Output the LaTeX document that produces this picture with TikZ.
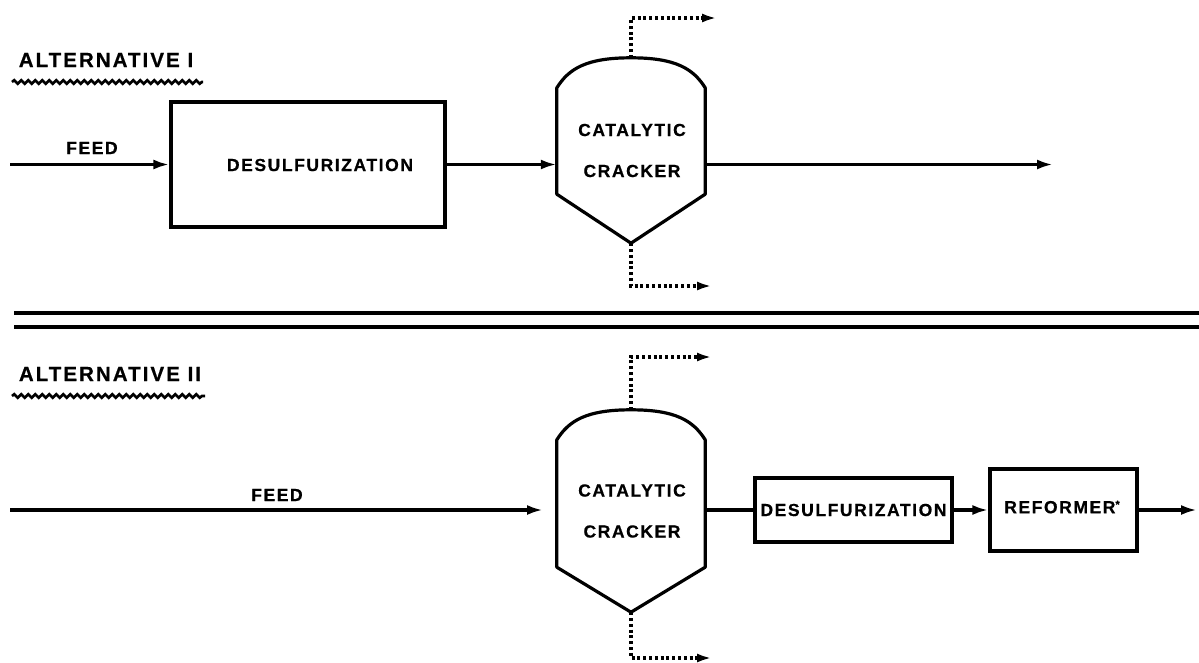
\documentclass[tikz,border=0pt]{standalone}
\usepackage{fontspec}
\setmainfont{Liberation Sans}
\newfontfamily\lblfont{Liberation Sans}[LetterSpace=9, FakeBold=0.6]
\newfontfamily\ttlfont{Liberation Sans}[LetterSpace=10, FakeBold=0.6]
\usetikzlibrary{arrows.meta,decorations.pathmorphing,calc}
\begin{document}
\begin{tikzpicture}[x=1pt,y=-1pt,
  lbl/.style={font={\lblfont\bfseries\fontsize{17.5}{41}\selectfont}, inner sep=0pt, align=center},
  ttl/.style={font={\ttlfont\bfseries\fontsize{20.5}{24}\selectfont}, inner sep=0pt},
  box/.style={draw, line width=3.2pt, inner sep=0pt},
  body/.style={draw=none, inner sep=0pt},
  shell/.style={line width=3.2pt, line join=round},
  flow/.style={line width=3.2pt, -{Latex[length=16pt,width=10pt]}},
  plain/.style={line width=3.2pt},
  vent/.style={line width=3.4pt, dash pattern=on 3pt off 2.8pt, -{Latex[length=15pt,width=9pt]}},
  wavy/.style={line width=2.6pt, decorate, decoration={snake, amplitude=1.8pt, segment length=7pt}},
  sep/.style={line width=4pt}]
\useasboundingbox (0,0) rectangle (1199,662);

% ---------- ALTERNATIVE I ----------
\node[ttl] (t1) at (106,60) {ALTERNATIVE I};
\draw[wavy] (12,82) -- (203,82);

\node[box, minimum width=274, minimum height=125] (d1) at (308,164.5) {};
\node[lbl] (d1t) at (320,165) {DESULFURIZATION};

\node[body, minimum width=148, minimum height=106] (c1) at (631,141) {};
\coordinate (c1top) at ($(c1.north)+(0,-30)$);
\coordinate (c1tip) at ($(c1.south)+(0,49)$);
\draw[shell] (c1.south west) -- (c1.north west)
  .. controls +(12,-19) and +(-45,0) .. (c1top)
  .. controls +(45,0) and +(-12,-19) .. (c1.north east)
  -- (c1.south east) -- (c1tip) -- cycle;
\node[lbl] (c1t) at (632,150.5) {CATALYTIC\\CRACKER};

\coordinate (f1) at (10,164.5);
\node[lbl] (feed1) at (92,148) {FEED};
\draw[flow] (f1) -- (d1.west);
\draw[flow] (d1.east) -- (d1.east -| c1.west);
\coordinate (o1) at (1053,164.5);
\draw[flow] (d1.east -| c1.east) -- (o1);
\coordinate (v1) at (717,18);
\coordinate (v2) at (712,286);
\draw[vent] (c1top) |- (v1);
\draw[vent] (c1tip) |- (v2);

% ---------- separator ----------
\draw[sep] (14,313) -- (1199,313);
\draw[sep] (14,327) -- (1199,327);

% ---------- ALTERNATIVE II ----------
\node[ttl] (t2) at (110,374) {ALTERNATIVE II};
\draw[wavy] (12,396) -- (205,396);

\node[body, minimum width=148, minimum height=127] (c2) at (631,503.5) {};
\coordinate (c2top) at ($(c2.north)+(0,-30)$);
\coordinate (c2tip) at ($(c2.south)+(0,45)$);
\draw[shell] (c2.south west) -- (c2.north west)
  .. controls +(12,-19) and +(-45,0) .. (c2top)
  .. controls +(45,0) and +(-12,-19) .. (c2.north east)
  -- (c2.south east) -- (c2tip) -- cycle;
\node[lbl] (c2t) at (632,511) {CATALYTIC\\CRACKER};

\node[box, minimum width=197, minimum height=64] (d2) at (853.5,510) {};
\node[lbl] (d2t) at (d2.center) {DESULFURIZATION};
\node[box, minimum width=147, minimum height=82] (r2) at (1063.5,510) {};
\node[lbl] (r2t) at (1062,507) {REFORMER{\fontsize{11}{11}\selectfont\raisebox{5pt}{*}}};

\coordinate (f2) at (10,510);
\coordinate (f2e) at (543,510);
\node[lbl] (feed2) at (277,495) {FEED};
\draw[flow] (f2) -- (f2e);
\draw[plain] (d2.west -| c2.east) -- (d2.west);
\draw[flow] (d2.east) -- (r2.west);
\coordinate (o2) at (1197,510);
\draw[flow] (r2.east) -- (o2);
\coordinate (v3) at (712,357);
\coordinate (v4) at (712,658);
\draw[vent] (c2top) |- (v3);
\draw[vent] (c2tip) |- (v4);
\end{tikzpicture}
\end{document}
